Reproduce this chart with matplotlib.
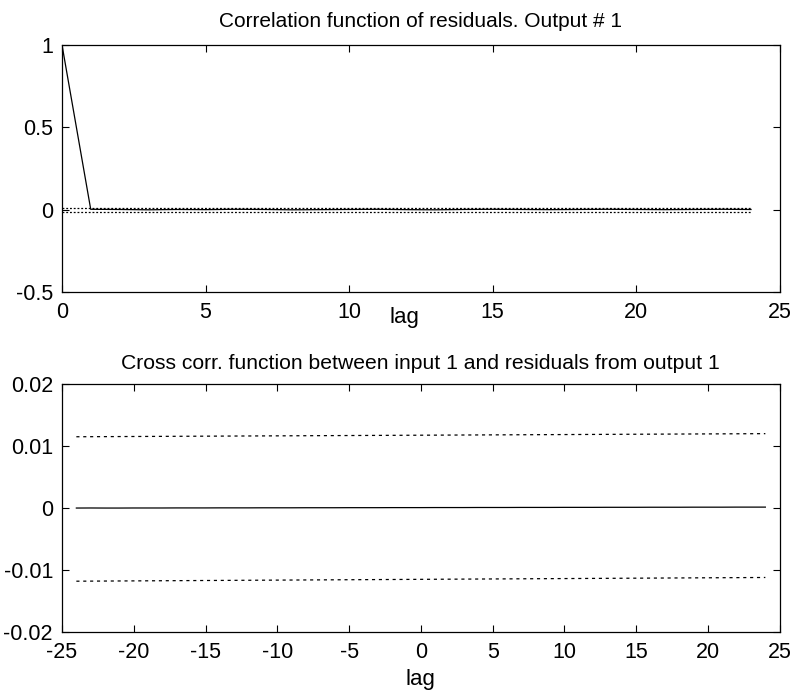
import numpy as np
import matplotlib
matplotlib.use("Agg")
from matplotlib import pyplot as plt

plt.rcParams['font.family'] = ['Liberation Sans', 'DejaVu Sans']
plt.rcParams['axes.unicode_minus'] = False

# residual autocorrelation, output 1
auto_lags = np.arange(0, 25)
auto_corr = [1.0, 0.002, 0.001, -0.001, 0.001, 0.000, 0.002, 0.001, -0.001, 0.000,
             0.001, 0.002, 0.000, -0.001, 0.001, 0.002, 0.001, 0.000, 0.001, 0.002,
             0.001, 0.000, 0.001, 0.002, 0.001]
auto_conf = 0.0116

# cross correlation input 1 / residuals output 1
cross_lags = np.arange(-24, 25)
cross_corr = [0.00000, 0.00001, 0.00000, 0.00000, 0.00001, 0.00001, 0.00001, 0.00002, 0.00002, 0.00002,
              0.00003, 0.00003, 0.00003, 0.00004, 0.00004, 0.00004, 0.00005, 0.00005, 0.00005, 0.00006,
              0.00006, 0.00006, 0.00007, 0.00007, 0.00007, 0.00008, 0.00008, 0.00008, 0.00009, 0.00009,
              0.00009, 0.00010, 0.00010, 0.00010, 0.00011, 0.00011, 0.00011, 0.00012, 0.00012, 0.00012,
              0.00013, 0.00013, 0.00013, 0.00014, 0.00014, 0.00014, 0.00015, 0.00015, 0.00015]
cross_conf_hi = [0.0115, 0.0120]
cross_conf_lo = [-0.0118, -0.0112]

fig = plt.figure(figsize=(7.97, 6.95), dpi=100)
ax1 = fig.add_axes([0.0778, 0.5799, 0.9005, 0.3554])
ax2 = fig.add_axes([0.0778, 0.0906, 0.9005, 0.3568])

for ax in (ax1, ax2):
    ax.tick_params(direction='in', top=True, right=True, length=5, width=0.8,
                   labelsize=15.5)
    ax.tick_params(axis='y', pad=6.5)
    ax.tick_params(axis='x', pad=7)
    for s in ax.spines.values():
        s.set_linewidth(0.9)

ax1.plot(auto_lags, auto_corr, color='black', lw=0.9)
ax1.plot(auto_lags, np.full(len(auto_lags), auto_conf), color='black', lw=0.9, ls=(0, (1.5, 1.5)))
ax1.plot(auto_lags, np.full(len(auto_lags), -auto_conf), color='black', lw=0.9, ls=(0, (1.5, 1.5)))
ax1.set_xlim(0, 25)
ax1.set_ylim(-0.5, 1)
ax1.set_xticks(np.arange(0, 26, 5))
ax1.set_yticks([-0.5, 0, 0.5, 1])
ax1.set_yticklabels(['-0.5', '0', '0.5', '1'])
ax1.set_title('Correlation function of residuals. Output # 1', fontsize=15, pad=13)
ax1.set_xlabel('lag', fontsize=16)
ax1.xaxis.set_label_coords(0.477, -0.06)

ax2.plot(cross_lags, cross_corr, color='black', lw=0.9)
ax2.plot([cross_lags[0], cross_lags[-1]], cross_conf_hi, color='black', lw=0.9, ls=(0, (2.5, 3)))
ax2.plot([cross_lags[0], cross_lags[-1]], cross_conf_lo, color='black', lw=0.9, ls=(0, (2.5, 3)))
ax2.set_xlim(-25, 25)
ax2.set_ylim(-0.02, 0.02)
ax2.set_xticks(np.arange(-25, 26, 5))
ax2.set_yticks([-0.02, -0.01, 0, 0.01, 0.02])
ax2.set_yticklabels(['-0.02', '-0.01', '0', '0.01', '0.02'])
ax2.set_title('Cross corr. function between input 1 and residuals from output 1',
              fontsize=15.2, pad=11)
ax2.set_xlabel('lag', fontsize=16)
ax2.xaxis.set_label_coords(0.5, -0.15)

fig.savefig('out.png', dpi=100)
